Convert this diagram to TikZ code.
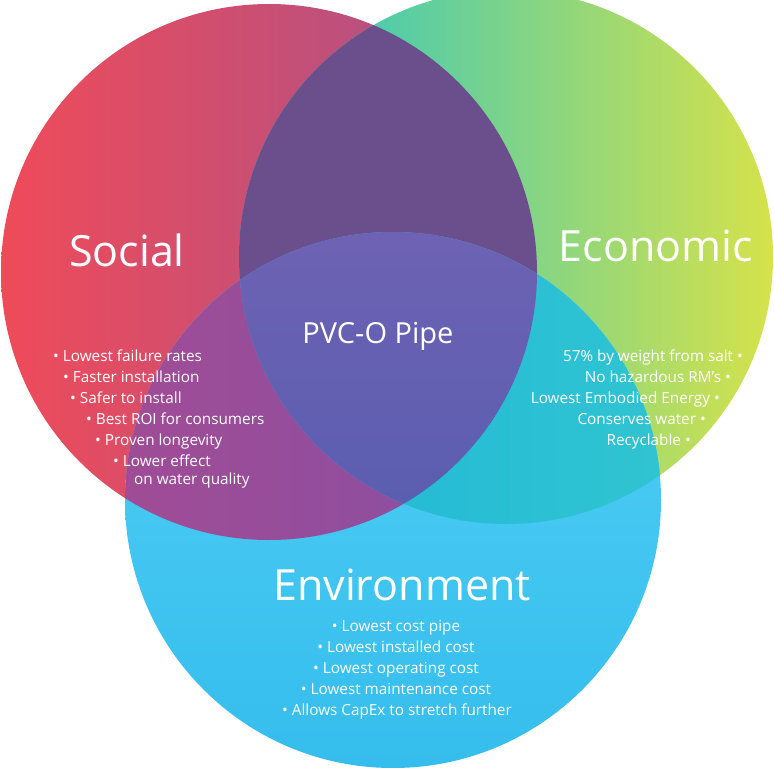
\documentclass[tikz,border=0pt]{standalone}
\usepackage{fontspec}
\setmainfont{Open Sans}
\begin{document}
\begin{tikzpicture}[x=1pt,y=-1pt,
  item/.style={text=white,font=\fontsize{15.3}{18}\selectfont,inner sep=0pt,text height=11pt,text depth=3pt},
  title/.style={text=white,font=\fontsize{43}{48}\selectfont,inner sep=0pt}]
\definecolor{sred}{HTML}{EF4B59}\definecolor{spur}{HTML}{A2538F}
\definecolor{eteal}{HTML}{22C4CC}\definecolor{eyel}{HTML}{D6E24A}
\definecolor{ebl1}{HTML}{55D2F6}\definecolor{ebl2}{HTML}{35BDED}
\useasboundingbox (0,0) rectangle (774,768);
\def\Sc{(269,272) circle[radius=268]}
\def\Ec{(506,257) circle[radius=267]}
\def\Vc{(393,500) circle[radius=268]}
\shade[left color=sred,right color=spur] \Sc;
\shade[shading angle=-60,left color=eteal,right color=eyel] \Ec;
\shade[top color=ebl1,bottom color=ebl2] \Vc;
\begin{scope}\clip \Sc; \fill[color={rgb,255:red,106;green,79;blue,140}] \Ec;\end{scope}
\begin{scope}\clip \Sc; \shade[left color={rgb,255:red,160;green,76;blue,150},right color={rgb,255:red,126;green,80;blue,166}] \Vc;\end{scope}
\begin{scope}\clip \Ec; \shade[left color={rgb,255:red,25;green,178;blue,214},right color={rgb,255:red,48;green,196;blue,210}] \Vc;\end{scope}
\begin{scope}\clip \Sc; \clip \Ec; \shade[top color={rgb,255:red,110;green,98;blue,180},bottom color={rgb,255:red,72;green,90;blue,172}] \Vc;\end{scope}
\node[title] (soc) at (127,250) {Social};
\node[title] (eco) at (656,246) {Economic};
\node[title] (env) at (402,585) {Environment};
\node[text=white,font=\fontsize{29}{34}\selectfont,inner sep=0pt] (pvc) at (378,336) {PVC-O Pipe};
\node[item,anchor=west] (s1) at (53,357) {• Lowest failure rates};
\node[item,anchor=west] (s2) at (63,378) {• Faster installation};
\node[item,anchor=west] (s3) at (70,399) {• Safer to install};
\node[item,anchor=west] (s4) at (86,420) {• Best ROI for consumers};
\node[item,anchor=west] (s5) at (95,441) {• Proven longevity};
\node[item,anchor=west] (s6) at (113,462) {• Lower effect};
\node[item,anchor=west] (s7) at (134,480) {on water quality};
\node[item,anchor=east] (e1) at (743,357) {57\% by weight from salt •};
\node[item,anchor=east] (e2) at (731,378) {No hazardous RM's •};
\node[item,anchor=east] (e3) at (720,399) {Lowest Embodied Energy •};
\node[item,anchor=east] (e4) at (706,420) {Conserves water •};
\node[item,anchor=east] (e5) at (691,441) {Recyclable •};
\node[item] (v1) at (396,627) {• Lowest cost pipe};
\node[item] (v2) at (396,648) {• Lowest installed cost};
\node[item] (v3) at (396,669) {• Lowest operating cost};
\node[item] (v4) at (396,690) {• Lowest maintenance cost};
\node[item] (v5) at (397,711) {• Allows CapEx to stretch further};
\end{tikzpicture}
\end{document}
